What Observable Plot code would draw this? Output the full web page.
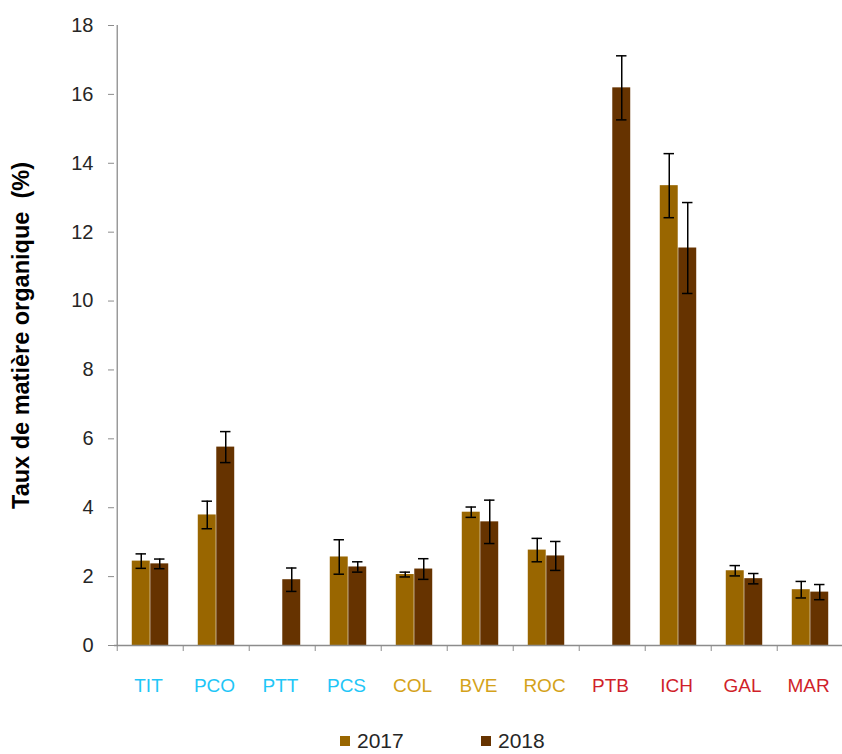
<!DOCTYPE html>
<html>
<head>
<meta charset="utf-8">
<script src="https://cdn.jsdelivr.net/npm/d3@7"></script>
<script src="https://cdn.jsdelivr.net/npm/@observablehq/plot@0.6"></script>
<style>
  html, body { margin: 0; padding: 0; background: #fff; }
  #chart svg [aria-label="y-axis label"] text { font-weight: bold; font-family: "Liberation Sans", sans-serif; font-size: 23.5px; fill: #000; }
  #legend { position: relative; width: 842px; height: 26px; font-family: "Liberation Sans", sans-serif; font-size: 21px; color: #262626; }
  .item { position: absolute; top: 0; height: 26px; display: flex; align-items: center; }
  .sw { width: 10px; height: 10px; margin-right: 7px; }
</style>
</head>
<body>
<div id="chart"></div>
<div id="legend"></div>
<script>
const categories = ["TIT","PCO","PTT","PCS","COL","BVE","ROC","PTB","ICH","GAL","MAR"];
const value2017 = [2.45, 3.79, null, 2.57, 2.06, 3.87, 2.77, null, 13.35, 2.17, 1.62];
const error2017 = [0.21, 0.40, null, 0.50, 0.07, 0.15, 0.34, null, 0.93, 0.15, 0.24];
const value2018 = [2.37, 5.76, 1.91, 2.28, 2.22, 3.59, 2.60, 16.19, 11.54, 1.94, 1.55];
const error2018 = [0.14, 0.45, 0.34, 0.15, 0.30, 0.63, 0.42, 0.93, 1.32, 0.15, 0.22];
const labelColors = ["#1fc6f7","#1fc6f7","#1fc6f7","#1fc6f7","#d4a21a","#d4a21a","#d4a21a","#d01f2a","#d01f2a","#d01f2a","#d01f2a"];
const yTicks = [0,2,4,6,8,10,12,14,16,18];
const years = ["2017","2018"];
const yearColors = ["#996600","#663300"];

const rows2017 = categories.map((c,i) => ({cat: c, v: value2017[i], e: error2017[i]})).filter(d => d.v != null);
const rows2018 = categories.map((c,i) => ({cat: c, v: value2018[i], e: error2018[i]})).filter(d => d.v != null);

const W = 842, H = 728, ML = 114, MR = -4, MT = 25, MB = 83;
const step = (W - ML - MR) / categories.length;
const outer = 0.222 * step, half = 0.5 * step, capHalf = 5.5;
const c17 = 0.361 * step, c18 = 0.639 * step;
const grey = "#8c8c8c";

const chart = Plot.plot({
  width: W, height: H,
  marginLeft: ML, marginRight: MR, marginTop: MT, marginBottom: MB,
  style: {fontFamily: "Liberation Sans, sans-serif", background: "#fff", overflow: "visible"},
  x: {type: "band", domain: categories, padding: 0, axis: null},
  y: {domain: [0, 18], axis: null},
  color: {type: "identity"},
  marks: [
    Plot.axisY({ticks: yTicks, tickSize: 6, tickPadding: 15, fontSize: 20, stroke: grey, color: "#262626",
      tickFormat: d => String(d), label: "Taux de matière organique\u00a0\u00a0(%)", labelAnchor: "center", labelArrow: "none", labelOffset: 102}),
    Plot.axisX({tickSize: 6, tickPadding: 0, dx: -step / 2, stroke: grey, tickFormat: () => "", label: null}),
    Plot.axisX({tickSize: 0, tickPadding: 33, dx: -2, fontSize: 19, fontFamily: "Liberation Sans, sans-serif",
      fill: d => labelColors[categories.indexOf(d)], label: null}),
    Plot.barY(rows2017, {x: "cat", y: "v", fill: yearColors[0], insetLeft: outer, insetRight: half}),
    Plot.barY(rows2018, {x: "cat", y: "v", fill: yearColors[1], insetLeft: half, insetRight: outer}),
    Plot.ruleY([0], {stroke: grey, strokeWidth: 1.3}),
    Plot.ruleX([categories[0]], {dx: -step / 2, stroke: grey, strokeWidth: 1.3}),
    Plot.ruleX(rows2017, {x: "cat", y1: d => d.v - d.e, y2: d => d.v + d.e, dx: c17 - half, stroke: "#000", strokeWidth: 1.5}),
    Plot.tickY(rows2017, {x: "cat", y: d => d.v + d.e, insetLeft: c17 - capHalf, insetRight: step - c17 - capHalf, stroke: "#000", strokeWidth: 1.5}),
    Plot.tickY(rows2017, {x: "cat", y: d => d.v - d.e, insetLeft: c17 - capHalf, insetRight: step - c17 - capHalf, stroke: "#000", strokeWidth: 1.5}),
    Plot.ruleX(rows2018, {x: "cat", y1: d => d.v - d.e, y2: d => d.v + d.e, dx: c18 - half, stroke: "#000", strokeWidth: 1.5}),
    Plot.tickY(rows2018, {x: "cat", y: d => d.v + d.e, insetLeft: c18 - capHalf, insetRight: step - c18 - capHalf, stroke: "#000", strokeWidth: 1.5}),
    Plot.tickY(rows2018, {x: "cat", y: d => d.v - d.e, insetLeft: c18 - capHalf, insetRight: step - c18 - capHalf, stroke: "#000", strokeWidth: 1.5})
  ]
});
document.getElementById("chart").appendChild(chart);

const legend = document.getElementById("legend");
const legendLeft = [340, 481];
years.forEach((y, i) => {
  const it = document.createElement("div");
  it.className = "item";
  it.style.left = legendLeft[i] + "px";
  it.innerHTML = `<span class="sw" style="background:${yearColors[i]}"></span><span>${y}</span>`;
  legend.appendChild(it);
});
</script>
</body>
</html>
